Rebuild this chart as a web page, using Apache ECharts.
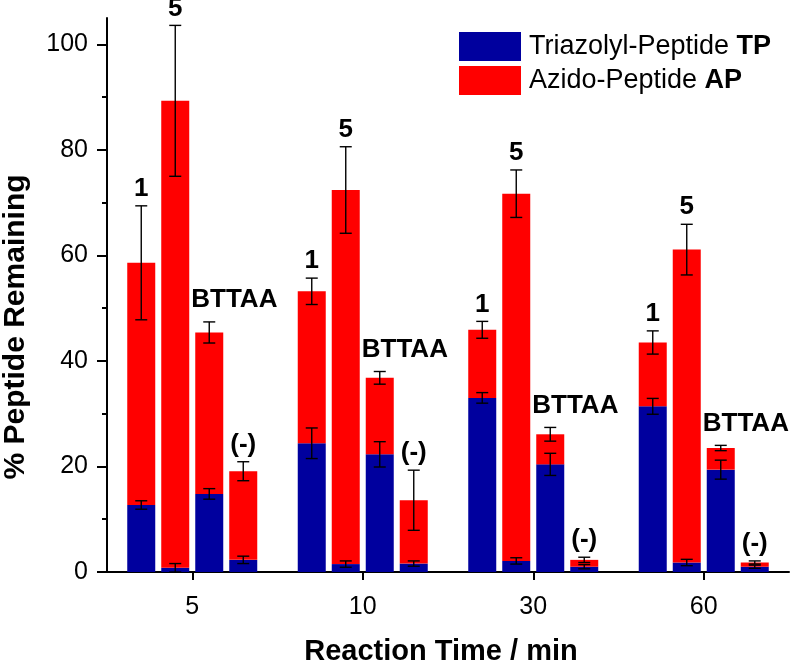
<!DOCTYPE html>
<html>
<head>
<meta charset="utf-8">
<script src="https://cdn.jsdelivr.net/npm/echarts@6/dist/echarts.min.js"></script>
<style>html,body{margin:0;padding:0;background:#fff;}#c{width:800px;height:663px;}</style>
</head>
<body>
<div id="c"></div>
<script>
// ---- data ----
const categories = ['5', '10', '30', '60'];           // reaction time / min
const catalysts = ['1', '5', 'BTTAA', '(-)'];          // bar labels, left to right in each group
// Triazolyl-Peptide TP (blue, bottom segment), one array per catalyst over categories
const tpValues = [
  [12.7, 24.4, 33.0, 31.4],
  [0.8, 1.5, 2.1, 1.8],
  [14.8, 22.3, 20.4, 19.4],
  [2.3, 1.6, 1.0, 1.0]
];
const tpErrors = [
  [0.8, 2.9, 1.0, 1.5],
  [0.8, 0.6, 0.6, 0.6],
  [1.0, 2.4, 2.1, 1.8],
  [0.7, 0.5, 0.4, 0.3]
];
// Azido-Peptide AP (red, stacked on top)
const apValues = [
  [45.9, 28.8, 12.9, 12.1],
  [88.5, 70.9, 69.6, 59.3],
  [30.6, 14.5, 5.7, 4.1],
  [16.8, 12.0, 1.3, 0.8]
];
// error on the total (top of stacked bar)
const totalErrors = [
  [10.8, 2.5, 1.6, 2.2],
  [14.3, 8.2, 4.5, 4.8],
  [2.0, 1.2, 1.3, 0.5],
  [1.8, 5.7, 0.5, 0.3]
];
const yMajorTicks = [0, 20, 40, 60, 80, 100];
const yMinorTicks = [10, 30, 50, 70, 90];
const seriesNames = ['Triazolyl-Peptide TP', 'Azido-Peptide AP'];

// ---- style ----
const FONT = 'Arial, "Liberation Sans", sans-serif';
const BLUE = '#00009e';
const RED = '#ff0000';
const BAR_W = 28;
const BAR_GAP = 6;

const chart = echarts.init(document.getElementById('c'), null, {renderer: 'canvas'});

const series = [];
for (let k = 0; k < catalysts.length; k++) {
  series.push({
    name: seriesNames[0], type: 'bar', stack: 's' + k, data: tpValues[k],
    barWidth: BAR_W, barGap: (BAR_GAP / BAR_W * 100).toFixed(2) + '%',
    itemStyle: {color: BLUE}, silent: true
  });
  series.push({
    name: seriesNames[1], type: 'bar', stack: 's' + k, data: apValues[k],
    barWidth: BAR_W, barGap: (BAR_GAP / BAR_W * 100).toFixed(2) + '%',
    itemStyle: {color: RED}, silent: true
  });
}

const errData = [];
for (let k = 0; k < catalysts.length; k++) {
  for (let c = 0; c < categories.length; c++) {
    errData.push([c, k, tpValues[k][c], tpErrors[k][c], 0]);
    errData.push([c, k, tpValues[k][c] + apValues[k][c], totalErrors[k][c], 1]);
  }
}

function renderErr(params, api) {
  const c = api.value(0), k = api.value(1), v = api.value(2), e = api.value(3), isTop = api.value(4);
  const p = api.coord([c, v]);
  const x = p[0] + (k - 1.5) * (BAR_W + BAR_GAP);
  const yHi = api.coord([c, v + e])[1];
  const yLo = api.coord([c, Math.max(0, v - e)])[1];
  const ls = {stroke: '#000', lineWidth: 1.4};
  const cap = 6;
  const children = [
    {type: 'line', shape: {x1: x, y1: yHi, x2: x, y2: yLo}, style: ls},
    {type: 'line', shape: {x1: x - cap, y1: yHi, x2: x + cap, y2: yHi}, style: ls},
    {type: 'line', shape: {x1: x - cap, y1: yLo, x2: x + cap, y2: yLo}, style: ls}
  ];
  if (isTop) {
    const name = catalysts[k];
    const leftAlign = name === 'BTTAA';
    children.push({
      type: 'text',
      style: {
        text: name,
        x: leftAlign ? x - BAR_W / 2 - 4 : x,
        y: yHi - (leftAlign ? 9 : 4),
        align: leftAlign ? 'left' : 'center',
        verticalAlign: 'bottom',
        fontFamily: FONT, fontWeight: 'bold', fontSize: 26, fill: '#000'
      }
    });
  }
  return {type: 'group', children: children};
}

series.push({
  type: 'custom', name: 'err', data: errData, renderItem: renderErr,
  encode: {x: 0, y: 2}, clip: false, z: 10, silent: true
});

const axisLineStyle = {color: '#000', width: 2};

chart.setOption({
  animation: false,
  backgroundColor: '#fff',
  grid: {left: 107, right: 11, top: 18, bottom: 91, containLabel: false},
  legend: {
    data: seriesNames, orient: 'vertical', left: 454, top: 27,
    itemWidth: 62, itemHeight: 29, itemGap: 5, icon: 'rect', selectedMode: false,
    formatter: function (n) { return n.replace(/ (TP|AP)$/, ' {b|$1}'); },
    textStyle: {
      fontFamily: FONT, fontSize: 27, color: '#000', padding: [0, 0, 0, 3],
      rich: {b: {fontFamily: FONT, fontSize: 27, fontWeight: 'bold', color: '#000'}}
    }
  },
  xAxis: {
    type: 'category', data: categories, boundaryGap: true,
    axisLine: {show: true, lineStyle: axisLineStyle},
    axisTick: {show: true, alignWithLabel: true, length: 8, lineStyle: {color: '#000', width: 2}},
    axisLabel: {fontFamily: FONT, fontSize: 25, color: '#000', margin: 23},
    splitLine: {show: false}
  },
  yAxis: [
    {
      type: 'value', min: 0, max: 105, position: 'left',
      axisLine: {show: true, lineStyle: axisLineStyle},
      axisTick: {show: true, customValues: yMajorTicks, length: 10, lineStyle: {color: '#000', width: 2}},
      axisLabel: {customValues: yMajorTicks, fontFamily: FONT, fontSize: 25, color: '#000', margin: 19},
      splitLine: {show: false}
    },
    {
      type: 'value', min: 0, max: 105, position: 'left',
      axisLine: {show: false},
      axisTick: {show: true, customValues: yMinorTicks, length: 5, lineStyle: {color: '#000', width: 2}},
      axisLabel: {show: false},
      splitLine: {show: false}
    }
  ],
  graphic: [
    {
      type: 'text', x: 16, y: 327, rotation: Math.PI / 2,
      style: {text: '% Peptide Remaining', fontFamily: FONT, fontWeight: 'bold', fontSize: 30,
        fill: '#000', align: 'center', verticalAlign: 'middle'}
    },
    {
      type: 'text', x: 441, y: 652,
      style: {text: 'Reaction Time / min', fontFamily: FONT, fontWeight: 'bold', fontSize: 29,
        fill: '#000', align: 'center', verticalAlign: 'middle'}
    }
  ],
  series: series
});
</script>
</body>
</html>
